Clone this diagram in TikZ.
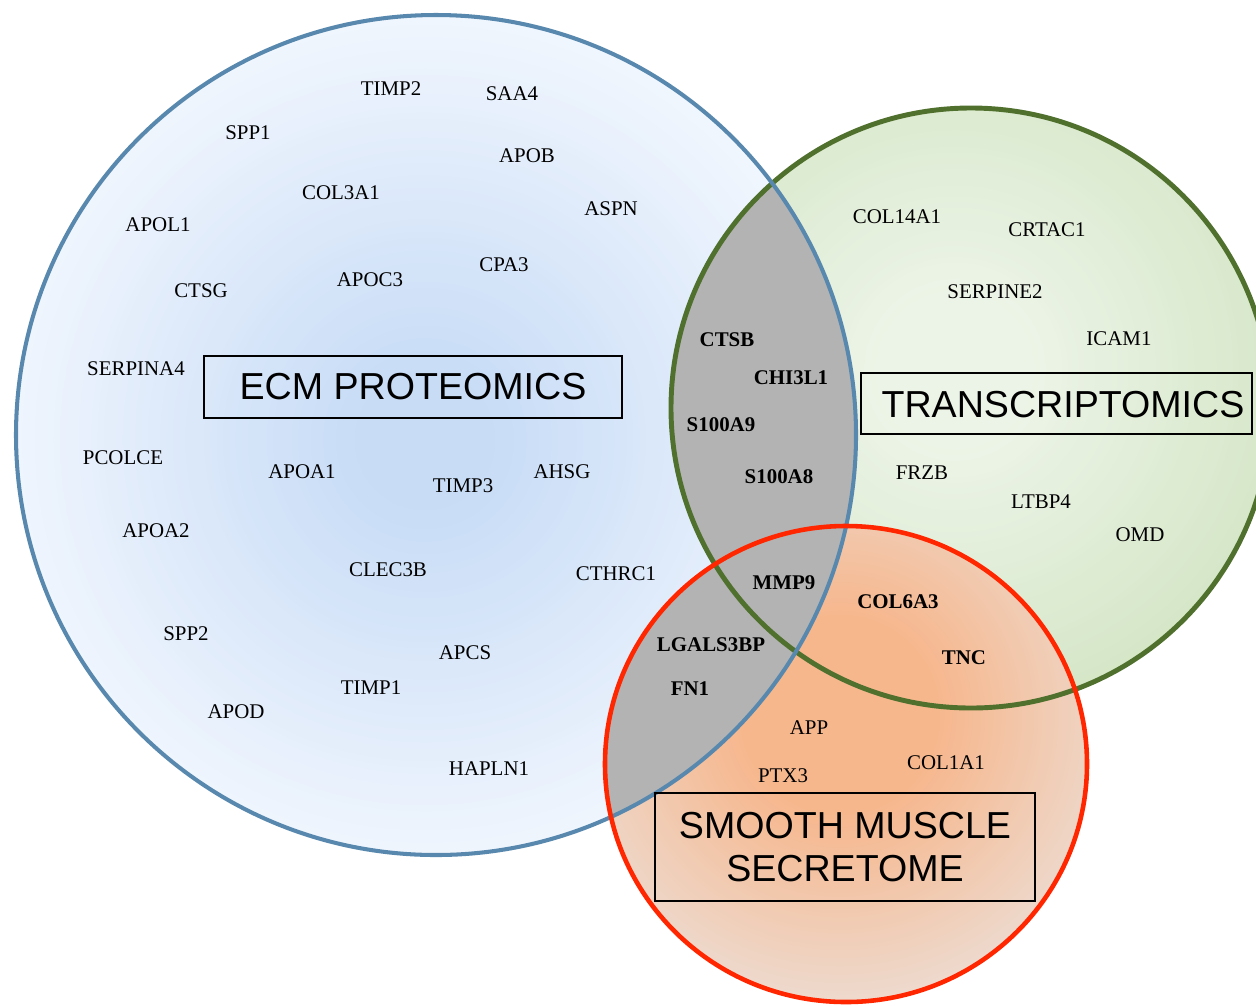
\documentclass[tikz,border=0pt]{standalone}
\usepackage{fontspec}
\setmainfont{Liberation Serif}
\newfontfamily\bigsans{Liberation Sans}
\definecolor{bline}{RGB}{88,136,174}
\definecolor{gline}{RGB}{80,112,46}
\definecolor{rline}{RGB}{255,38,0}
\definecolor{grayfill}{RGB}{179,179,179}
\definecolor{bcen}{RGB}{200,220,246}
\definecolor{bedge}{RGB}{242,247,254}
\definecolor{gcen}{RGB}{236,244,231}
\definecolor{gedge}{RGB}{213,230,199}
\definecolor{rcen}{RGB}{246,183,141}
\definecolor{redge}{RGB}{237,220,210}
\tikzset{
  gene/.style={font=\fontsize{11.9}{14}\selectfont, inner sep=0pt, anchor=center},
  bgene/.style={font=\fontsize{11.9}{14}\selectfont\bfseries, inner sep=0pt, anchor=center},
  bigbox/.style={draw=black, line width=0.9pt, inner sep=0pt, font=\bigsans\fontsize{21.4}{24.4}\selectfont, align=center},
  bigtext/.style={inner sep=0pt, font=\bigsans\fontsize{21.4}{24.4}\selectfont, align=center},
}
\begin{document}
\begin{tikzpicture}[x=0.02cm,y=-0.02cm]
\useasboundingbox (0,0) rectangle (1256,1005);
\clip (0,0) rectangle (1256,1005);
\fill[white] (0,0) rectangle (1256,1005);
% blue fill (manual radial gradient)
\begin{scope}
  \clip (436,435) circle [radius=420];
  \fill[bedge] (436,435) circle [radius=425];
  \foreach \i in {0,...,59} {
    \pgfmathsetmacro\rr{440-6.2712*\i}
    \pgfmathsetmacro\pp{1.6949*\i}
    \fill[bcen!\pp!bedge] (425,440) circle [radius=\rr];
  }
\end{scope}
% green fill
\begin{scope}
  \clip (971,408) circle [radius=300];
  \fill[gedge] (971,408) circle [radius=305];
  \foreach \i in {0,...,49} {
    \pgfmathsetmacro\rr{350-5.5102*\i}
    \pgfmathsetmacro\pp{2.0408*\i}
    \fill[gcen!\pp!gedge] (955,370) circle [radius=\rr];
  }
\end{scope}
% red fill
\begin{scope}
  \clip (846,764) ellipse [x radius=241, y radius=238];
  \fill[redge] (846,764) circle [radius=245];
  \foreach \i in {0,...,49} {
    \pgfmathsetmacro\rr{300-4.0816*\i}
    \pgfmathsetmacro\pp{2.0408*\i}
    \fill[rcen!\pp!redge] (840,715) circle [radius=\rr];
  }
\end{scope}
% overlaps with ECM circle in gray
\begin{scope}
  \clip (436,435) circle [radius=420];
  \fill[grayfill] (971,408) circle [radius=300];
  \fill[grayfill] (846,764) ellipse [x radius=241, y radius=238];
\end{scope}
% outlines
\draw[gline, line width=2.8pt] (971,408) circle [radius=300];
\draw[bline, line width=2.3pt] (436,435) circle [radius=420];
\draw[rline, line width=2.6pt] (846,764) ellipse [x radius=241, y radius=238];
% titles
\node[bigbox, minimum width=418*0.02cm, minimum height=62*0.02cm] (ecm) at (413,387) {ECM PROTEOMICS};
\draw[black, line width=0.9pt] (861,373) rectangle (1252,434);
\node[bigtext] (trans) at (1063,405) {TRANSCRIPTOMICS};
\node[bigbox, minimum width=380*0.02cm, minimum height=108*0.02cm] (smc) at (845,847) {SMOOTH MUSCLE\\SECRETOME};
% ECM proteomics genes
\node[gene] (timp2) at (391,89) {TIMP2};
\node[gene] (saa4) at (512,94) {SAA4};
\node[gene] (spp1) at (248,133) {SPP1};
\node[gene] (apob) at (527,156) {APOB};
\node[gene] (col3a1) at (341,193) {COL3A1};
\node[gene] (aspn) at (611,209) {ASPN};
\node[gene] (apol1) at (158,225) {APOL1};
\node[gene] (cpa3) at (504,265) {CPA3};
\node[gene] (apoc3) at (370,280) {APOC3};
\node[gene] (ctsg) at (201,291) {CTSG};
\node[gene] (serpina4) at (136,369) {SERPINA4};
\node[gene] (pcolce) at (123,458) {PCOLCE};
\node[gene] (apoa1) at (302,472) {APOA1};
\node[gene] (timp3) at (463,486) {TIMP3};
\node[gene] (ahsg) at (562,472) {AHSG};
\node[gene] (apoa2) at (156,531) {APOA2};
\node[gene] (clec3b) at (388,570) {CLEC3B};
\node[gene] (cthrc1) at (616,574) {CTHRC1};
\node[gene] (spp2) at (186,634) {SPP2};
\node[gene] (apcs) at (465,653) {APCS};
\node[gene] (timp1) at (371,688) {TIMP1};
\node[gene] (apod) at (236,712) {APOD};
\node[gene] (hapln1) at (489,769) {HAPLN1};
% overlaps
\node[bgene] (ctsb) at (727,340) {CTSB};
\node[bgene] (chi3l1) at (791,378) {CHI3L1};
\node[bgene] (s100a9) at (721,425) {S100A9};
\node[bgene] (s100a8) at (779,477) {S100A8};
\node[bgene] (mmp9) at (784,583) {MMP9};
\node[bgene] (lgals3bp) at (711,645) {LGALS3BP};
\node[bgene] (fn1) at (690,689) {FN1};
\node[bgene] (col6a3) at (898,602) {COL6A3};
\node[bgene] (tnc) at (964,658) {TNC};
% transcriptomics
\node[gene] (col14a1) at (897,217) {COL14A1};
\node[gene] (crtac1) at (1047,230) {CRTAC1};
\node[gene] (serpine2) at (995,292) {SERPINE2};
\node[gene] (icam1) at (1119,339) {ICAM1};
\node[gene] (frzb) at (922,473) {FRZB};
\node[gene] (ltbp4) at (1041,502) {LTBP4};
\node[gene] (omd) at (1140,535) {OMD};
% secretome
\node[gene] (app) at (809,728) {APP};
\node[gene] (ptx3) at (783,776) {PTX3};
\node[gene] (col1a1) at (946,763) {COL1A1};
\end{tikzpicture}
\end{document}
